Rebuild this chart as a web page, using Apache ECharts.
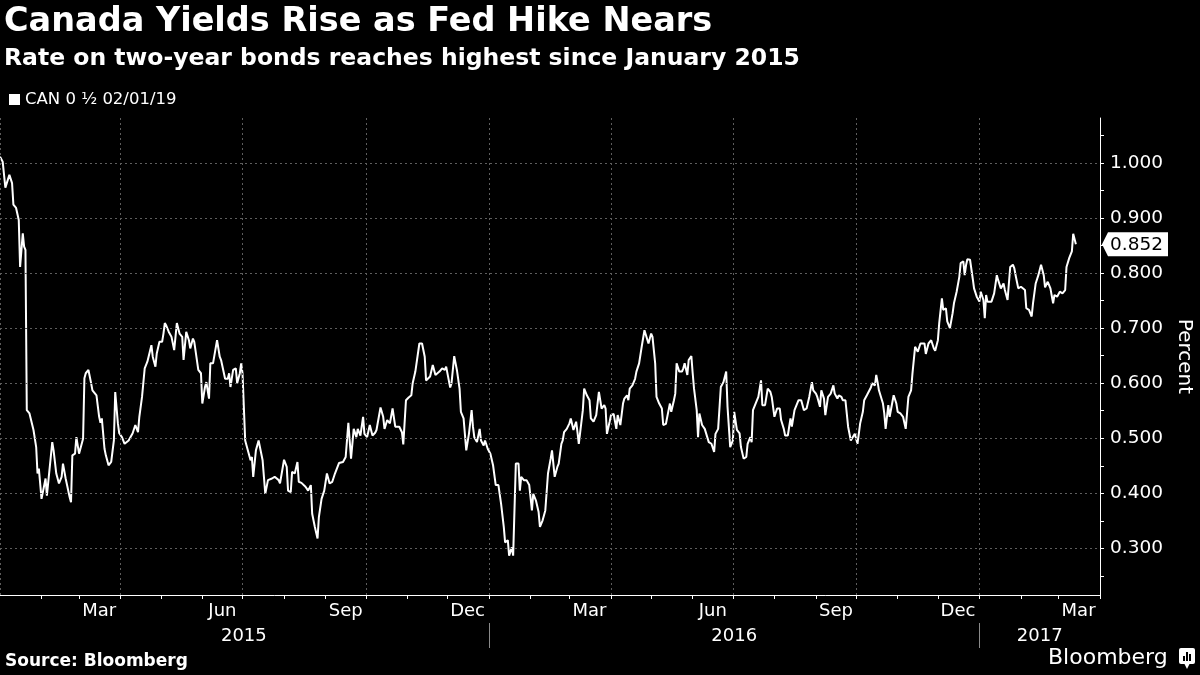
<!DOCTYPE html>
<html>
<head>
<meta charset="utf-8">
<title>Canada Yields Rise as Fed Hike Nears</title>
<script src="https://cdn.jsdelivr.net/npm/echarts@6/dist/echarts.min.js"></script>
<style>
  html, body { margin: 0; padding: 0; background: #000; }
  #chart { width: 1200px; height: 675px; }
</style>
</head>
<body>
<div id="chart"></div>
<script>
// CAN 0 1/2 02/01/19 two-year yield
// each point: [days since 2015-01-01, yield in percent]
var yields2015 = [
  [0, 1.011], [2, 1.002], [4, 0.955], [7, 0.978], [9, 0.963], [10, 0.924], [12, 0.918], [14, 0.896],
  [15, 0.811], [17, 0.872], [18, 0.848], [19, 0.842], [20, 0.551], [22, 0.545], [25, 0.515], [27, 0.484],
  [28, 0.436], [29, 0.445], [31, 0.390], [32, 0.390], [34, 0.427], [35, 0.396], [36, 0.399], [39, 0.493],
  [40, 0.478], [42, 0.436], [43, 0.439], [44, 0.418], [46, 0.430], [47, 0.454], [49, 0.427], [50, 0.427],
  [52, 0.393], [53, 0.384], [54, 0.469], [56, 0.472], [57, 0.502], [59, 0.472], [62, 0.499], [63, 0.609],
  [64, 0.618], [66, 0.624], [68, 0.600], [69, 0.587], [72, 0.578], [74, 0.539], [75, 0.528], [76, 0.536],
  [78, 0.481], [79, 0.469], [81, 0.451], [83, 0.457], [85, 0.496], [86, 0.584], [88, 0.527], [89, 0.509],
  [91, 0.502], [93, 0.490], [96, 0.496], [99, 0.509], [101, 0.524], [103, 0.511], [104, 0.539], [106, 0.575],
  [108, 0.627], [110, 0.639], [111, 0.642], [113, 0.669], [114, 0.648], [116, 0.630], [117, 0.654], [119, 0.675],
  [121, 0.675], [122, 0.690], [123, 0.709], [124, 0.705], [126, 0.693], [127, 0.696], [128, 0.684], [130, 0.660],
  [132, 0.709], [134, 0.690], [136, 0.684], [137, 0.642], [139, 0.693], [141, 0.678], [142, 0.663], [144, 0.681],
  [145, 0.675], [148, 0.624], [150, 0.618], [151, 0.563], [153, 0.593], [154, 0.602], [156, 0.572], [157, 0.636],
  [159, 0.636], [162, 0.678], [164, 0.648], [165, 0.642], [168, 0.608], [170, 0.608], [171, 0.618], [172, 0.593],
  [174, 0.624], [176, 0.627], [177, 0.600], [179, 0.618], [180, 0.636], [181, 0.618], [183, 0.496], [184, 0.487],
  [187, 0.460], [188, 0.466], [189, 0.430], [191, 0.478], [193, 0.496], [196, 0.460], [198, 0.399], [200, 0.424],
  [203, 0.427], [205, 0.430], [208, 0.424], [209, 0.418], [212, 0.461], [214, 0.448], [215, 0.405], [217, 0.402],
  [218, 0.439], [220, 0.436], [222, 0.457], [223, 0.421], [225, 0.419], [228, 0.412], [230, 0.405], [232, 0.415],
  [233, 0.363], [235, 0.339], [237, 0.318], [238, 0.357], [240, 0.390], [242, 0.405], [244, 0.436], [246, 0.418],
  [248, 0.421], [250, 0.436], [251, 0.436], [253, 0.455], [256, 0.457], [258, 0.466], [260, 0.528], [261, 0.496],
  [262, 0.463], [264, 0.517], [266, 0.502], [267, 0.517], [269, 0.505], [271, 0.539], [272, 0.508], [274, 0.502],
  [276, 0.524], [278, 0.505], [280, 0.510], [281, 0.515], [284, 0.556], [286, 0.539], [287, 0.517], [289, 0.533],
  [291, 0.527], [293, 0.554], [295, 0.521], [296, 0.524], [298, 0.521], [300, 0.511], [301, 0.489], [303, 0.569],
  [305, 0.574], [307, 0.578], [308, 0.600], [310, 0.621], [311, 0.624], [313, 0.672], [315, 0.672], [317, 0.648],
  [318, 0.605], [321, 0.612], [323, 0.633], [325, 0.615], [326, 0.618], [328, 0.621], [330, 0.627], [332, 0.624],
  [333, 0.630], [334, 0.627], [336, 0.592], [337, 0.600], [339, 0.649], [341, 0.624], [343, 0.590], [344, 0.548],
  [346, 0.536], [348, 0.478], [350, 0.508], [352, 0.551], [353, 0.521], [354, 0.502], [356, 0.493], [358, 0.517],
  [359, 0.496], [361, 0.487], [362, 0.496], [364, 0.481]
]
var yields2016 = [
  [366, 0.472], [368, 0.451], [370, 0.415], [372, 0.415], [374, 0.381], [376, 0.339], [377, 0.311], [379, 0.315],
  [380, 0.287], [382, 0.302], [383, 0.287], [385, 0.454], [387, 0.454], [388, 0.405], [389, 0.430], [391, 0.424],
  [393, 0.424], [395, 0.415], [397, 0.369], [398, 0.399], [400, 0.387], [402, 0.366], [403, 0.339], [405, 0.351],
  [407, 0.369], [409, 0.436], [411, 0.463], [412, 0.478], [414, 0.430], [416, 0.448], [417, 0.454], [419, 0.490],
  [420, 0.496], [421, 0.511], [423, 0.517], [425, 0.527], [426, 0.536], [428, 0.515], [430, 0.530], [431, 0.511],
  [432, 0.490], [435, 0.551], [436, 0.590], [438, 0.578], [440, 0.569], [441, 0.536], [443, 0.530], [445, 0.542],
  [447, 0.584], [449, 0.554], [451, 0.560], [452, 0.554], [453, 0.508], [455, 0.530], [456, 0.542], [458, 0.544],
  [460, 0.517], [461, 0.542], [463, 0.524], [465, 0.563], [466, 0.572], [468, 0.578], [469, 0.569], [470, 0.590],
  [472, 0.596], [474, 0.608], [475, 0.621], [477, 0.636], [479, 0.667], [481, 0.696], [482, 0.695], [484, 0.672],
  [485, 0.669], [486, 0.690], [487, 0.684], [489, 0.636], [490, 0.575], [492, 0.563], [494, 0.554], [495, 0.524],
  [497, 0.526], [499, 0.551], [500, 0.563], [501, 0.548], [503, 0.569], [504, 0.581], [505, 0.636], [507, 0.621],
  [509, 0.621], [510, 0.627], [511, 0.636], [513, 0.615], [514, 0.642], [516, 0.649], [517, 0.618], [518, 0.590],
  [520, 0.551], [521, 0.502], [522, 0.545], [524, 0.524], [526, 0.517], [527, 0.515], [529, 0.493], [531, 0.490],
  [533, 0.475], [534, 0.508], [536, 0.517], [538, 0.593], [540, 0.602], [541, 0.600], [542, 0.621], [543, 0.557],
  [545, 0.484], [547, 0.496], [548, 0.548], [550, 0.515], [552, 0.509], [553, 0.484], [555, 0.463], [557, 0.466],
  [558, 0.490], [560, 0.502], [561, 0.493], [562, 0.551], [565, 0.569], [566, 0.575], [568, 0.605], [569, 0.560],
  [571, 0.560], [573, 0.590], [575, 0.584], [576, 0.575], [578, 0.539], [580, 0.554], [582, 0.554], [583, 0.533],
  [585, 0.517], [586, 0.505], [588, 0.505], [590, 0.536], [591, 0.521], [593, 0.551], [596, 0.569], [598, 0.569],
  [600, 0.551], [602, 0.554], [604, 0.575], [606, 0.602], [607, 0.587], [609, 0.581], [610, 0.575], [612, 0.557],
  [613, 0.587], [615, 0.572], [616, 0.542], [618, 0.575], [620, 0.581], [622, 0.596], [623, 0.581], [625, 0.572],
  [626, 0.578], [628, 0.575], [629, 0.569], [631, 0.569], [633, 0.521], [635, 0.496], [636, 0.493], [638, 0.508],
  [640, 0.490], [642, 0.527], [644, 0.548], [645, 0.569], [647, 0.578], [650, 0.592], [651, 0.600], [653, 0.596],
  [654, 0.615], [655, 0.602], [656, 0.587], [659, 0.563], [660, 0.545], [661, 0.517], [663, 0.560], [664, 0.539],
  [667, 0.578], [669, 0.563], [670, 0.548], [672, 0.545], [674, 0.539], [675, 0.536], [676, 0.517], [678, 0.575],
  [680, 0.587], [681, 0.617], [683, 0.666], [685, 0.657], [687, 0.672], [688, 0.669], [690, 0.672], [691, 0.653],
  [693, 0.672], [695, 0.678], [697, 0.663], [698, 0.659], [700, 0.678], [701, 0.709], [703, 0.754], [704, 0.733],
  [706, 0.736], [707, 0.712], [709, 0.700], [711, 0.727], [712, 0.745], [714, 0.766], [716, 0.793], [717, 0.818],
  [719, 0.821], [720, 0.796], [721, 0.814], [722, 0.825], [724, 0.824], [726, 0.790], [727, 0.772], [729, 0.757]
]
var yields2017 = [
  [731, 0.748], [732, 0.766], [734, 0.751], [735, 0.718], [736, 0.760], [737, 0.748], [740, 0.748], [742, 0.763],
  [744, 0.796], [745, 0.787], [747, 0.772], [749, 0.781], [750, 0.769], [752, 0.751], [754, 0.811], [756, 0.815],
  [757, 0.809], [758, 0.796], [760, 0.772], [762, 0.775], [765, 0.769], [766, 0.736], [768, 0.733], [770, 0.721],
  [771, 0.745], [773, 0.781], [775, 0.796], [777, 0.815], [779, 0.796], [780, 0.774], [782, 0.784], [784, 0.772],
  [786, 0.745], [787, 0.760], [789, 0.757], [791, 0.766], [793, 0.763], [795, 0.769], [796, 0.811], [798, 0.827],
  [800, 0.839], [801, 0.871], [803, 0.852]
]

var seriesName = 'CAN 0 ½ 02/01/19'
var xMin = '2015-01-01'
var xMax = '2017-04-01'
var yMin = 0.2155
var yMax = 1.0813

// month labels sit mid-month, years sit mid-span
var monthLabelDates = ['2015-03-16', '2015-06-16', '2015-09-16', '2015-12-16', '2016-03-16', '2016-06-16', '2016-09-16', '2016-12-16', '2017-03-16']
var monthLabels = ['Mar', 'Jun', 'Sep', 'Dec', 'Mar', 'Jun', 'Sep', 'Dec', 'Mar']
var yearLabelDates = ['2015-07-02', '2016-07-02', '2017-02-15']
var yearLabels = ['2015', '2016', '2017']
var yearBreaks = ['2016-01-01', '2017-01-01']
var quarterGrid = ['2015-01-01', '2015-04-01', '2015-07-01', '2015-10-01', '2016-01-01', '2016-04-01', '2016-07-01', '2016-10-01', '2017-01-01']
var yLabelValues = [0.3, 0.4, 0.5, 0.6, 0.7, 0.8, 0.9, 1.0]

var FONT = 'DejaVu Sans'
var GRID_COLOR = '#5e5e5e'

function toTime(s) {
  var p = s.split('-')
  return new Date(+p[0], +p[1] - 1, +p[2]).getTime()
}
function dayToTime(d) {
  return new Date(2015, 0, 1 + d).getTime()
}

var lineData = yields2015.concat(yields2016, yields2017).map(function (p) {
  return [dayToTime(p[0]), p[1]]
})

var monthLabelMap = {}
monthLabelDates.forEach(function (d, i) { monthLabelMap[toTime(d)] = monthLabels[i] })
var yearLabelMap = {}
yearLabelDates.forEach(function (d, i) { yearLabelMap[toTime(d)] = yearLabels[i] })

// first of every month for the small ticks
var monthTicks = []
for (var m = 1; m <= 27; m++) monthTicks.push(new Date(2015, m, 1).getTime())
// minor ticks every 0.05 on the right axis
var yTicks = []
for (var t = 25; t <= 105; t += 5) yTicks.push(t / 100)

var gridMarks = yLabelValues.map(function (v) { return { yAxis: v } })
  .concat(quarterGrid.map(function (d) { return { xAxis: toTime(d) } }))

var chart = echarts.init(document.getElementById('chart'))

// x axes are plain value axes holding timestamps (custom ticks/labels)
var option = {
  backgroundColor: '#000',
  animation: false,
  title: [
    {
      text: 'Canada Yields Rise as Fed Hike Nears',
      left: 4, top: 5, padding: 0,
      textStyle: { color: '#fff', fontSize: 33.5, fontWeight: 'bold', fontFamily: FONT }
    },
    {
      text: 'Rate on two-year bonds reaches highest since January 2015',
      left: 4, top: 47, padding: 0,
      textStyle: { color: '#fff', fontSize: 23.5, fontWeight: 'bold', fontFamily: FONT }
    },
    {
      text: 'Source: Bloomberg',
      left: 5, top: 653, padding: 0,
      textStyle: { color: '#fff', fontSize: 17, fontWeight: 'bold', fontFamily: FONT }
    },
    {
      text: 'Bloomberg',
      left: 1048, top: 647, padding: 0,
      textStyle: { color: '#fff', fontSize: 22, fontWeight: 'normal', fontFamily: FONT }
    }
  ],
  legend: {
    data: [seriesName],
    left: 9, top: 91, padding: 0,
    icon: 'rect', itemWidth: 11, itemHeight: 11,
    selectedMode: false,
    textStyle: { color: '#fff', fontSize: 16.5, fontFamily: FONT }
  },
  grid: {
    left: 0, right: 100, top: 118, bottom: 80,
    containLabel: false,
    outerBoundsMode: 'none'
  },
  xAxis: [
    {
      type: 'value',
      min: toTime(xMin), max: toTime(xMax),
      axisLine: { show: true, onZero: false, lineStyle: { color: '#fff', width: 1 } },
      axisTick: { show: true, customValues: monthTicks, length: 4, lineStyle: { color: '#fff' } },
      axisLabel: {
        customValues: monthLabelDates.map(toTime),
        formatter: function (val) { return monthLabelMap[val] || '' },
        color: '#fff', fontSize: 18, fontFamily: FONT, margin: 7
      },
      splitLine: { show: false }
    },
    {
      type: 'value',
      position: 'bottom',
      offset: 28,
      min: toTime(xMin), max: toTime(xMax),
      axisLine: { show: false, onZero: false },
      axisTick: { show: true, customValues: yearBreaks.map(toTime), length: 25, lineStyle: { color: '#8a8a8a' } },
      axisLabel: {
        customValues: yearLabelDates.map(toTime),
        formatter: function (val) { return yearLabelMap[val] || '' },
        color: '#fff', fontSize: 18, fontFamily: FONT, margin: 4
      },
      splitLine: { show: false }
    }
  ],
  yAxis: {
    type: 'value',
    position: 'right',
    min: yMin, max: yMax,
    name: 'Percent',
    nameLocation: 'middle',
    nameRotate: -90,
    nameGap: 74,
    nameTextStyle: { color: '#fff', fontSize: 20, fontFamily: FONT },
    axisLine: { show: true, onZero: false, lineStyle: { color: '#fff', width: 1 } },
    axisTick: { show: true, customValues: yTicks, length: 4, lineStyle: { color: '#fff' } },
    axisLabel: {
      customValues: yLabelValues,
      formatter: function (v) { return v.toFixed(3) },
      color: '#fff', fontSize: 18.5, fontFamily: FONT, margin: 10
    },
    splitLine: { show: false }
  },
  series: [
    {
      name: 'grid',
      type: 'line',
      data: [],
      z: 1,
      silent: true,
      markLine: {
        silent: true,
        symbol: ['none', 'none'],
        label: { show: false },
        lineStyle: { color: GRID_COLOR, type: [2, 3], width: 1 },
        data: gridMarks
      }
    },
    {
      name: seriesName,
      type: 'line',
      data: lineData,
      z: 3,
      showSymbol: false,
      symbol: 'none',
      itemStyle: { color: '#fff' },
      lineStyle: { color: '#fff', width: 2 }
    }
  ]
}

chart.setOption(option)

// last-value tag on the right axis, placed through the chart's own scales
var lastPt = lineData[lineData.length - 1]
var tagY = chart.convertToPixel({ yAxisIndex: 0 }, lastPt[1])
var axisX = chart.convertToPixel({ xAxisIndex: 0 }, toTime(xMax))

chart.setOption({
  graphic: [
    {
      type: 'polygon',
      shape: {
        points: [
          [axisX + 2, tagY], [axisX + 8, tagY - 12], [axisX + 68, tagY - 12],
          [axisX + 68, tagY + 12], [axisX + 8, tagY + 12]
        ]
      },
      style: { fill: '#fff' }
    },
    {
      type: 'text',
      x: axisX + 10, y: tagY + 1,
      style: { text: lastPt[1].toFixed(3), fill: '#000', font: '18.5px "DejaVu Sans"', verticalAlign: 'middle' }
    },
    // small logo badge
    {
      type: 'group', left: 1179, top: 648,
      children: [
        { type: 'rect', shape: { x: 0, y: 0, width: 16, height: 16, r: 2 }, style: { fill: '#fff' } },
        { type: 'polygon', shape: { points: [[5, 15], [11, 15], [8, 21]] }, style: { fill: '#fff' } },
        { type: 'rect', shape: { x: 4, y: 8, width: 2, height: 5 }, style: { fill: '#000' } },
        { type: 'rect', shape: { x: 7, y: 4, width: 2, height: 9 }, style: { fill: '#000' } },
        { type: 'rect', shape: { x: 10, y: 6, width: 2, height: 7 }, style: { fill: '#000' } }
      ]
    }
  ]
})

window.addEventListener('resize', function () { chart.resize() })
</script>
</body>
</html>
